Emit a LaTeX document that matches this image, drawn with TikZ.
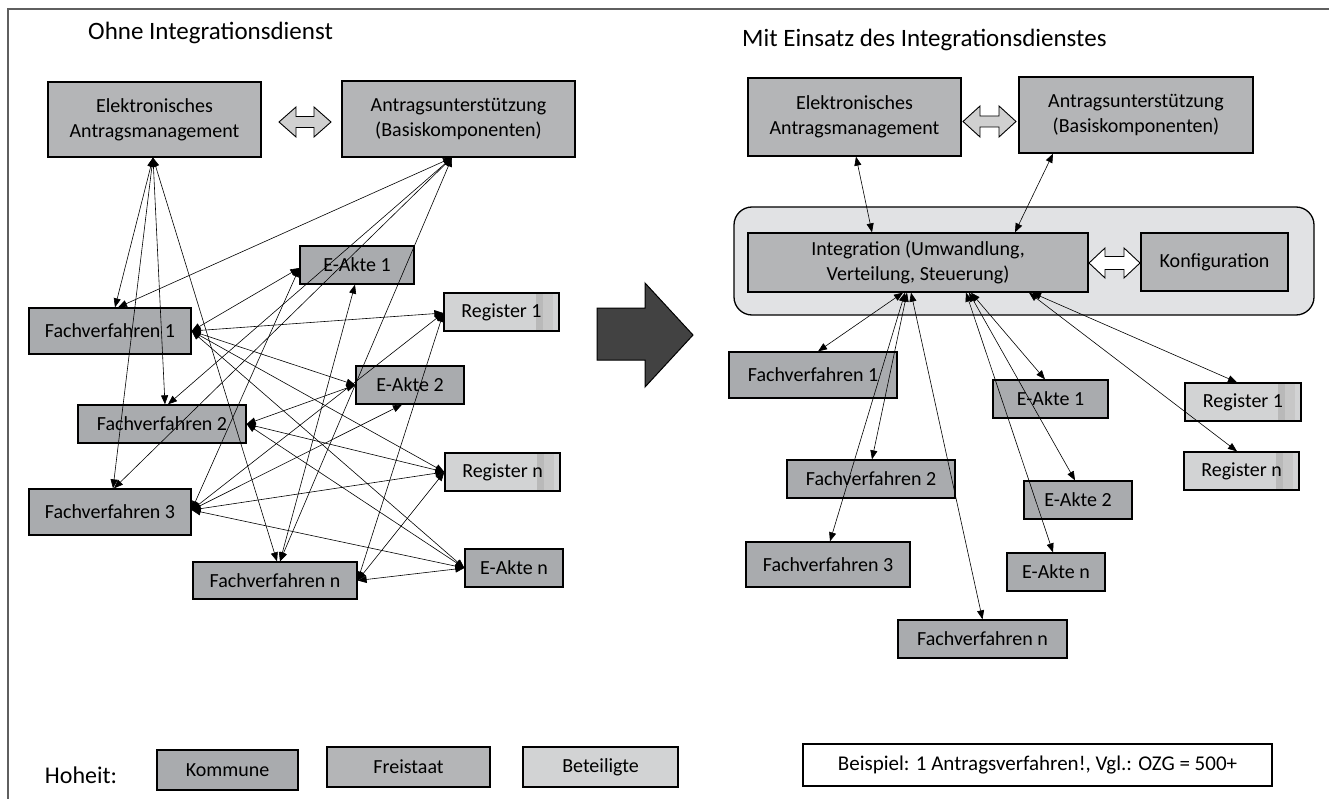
\documentclass[tikz,border=0pt]{standalone}
\usepackage{fontspec}
\setmainfont{Carlito}
\usetikzlibrary{arrows.meta,calc}
\definecolor{kommune}{HTML}{A9ABAE}
\definecolor{freistaat}{HTML}{B4B5B7}
\definecolor{beteil}{HTML}{D2D3D4}
\definecolor{contfill}{HTML}{E1E2E4}
\definecolor{framegray}{HTML}{5F5F5F}
\definecolor{bigarrowfill}{HTML}{424242}
\definecolor{dblfill}{HTML}{D0D0D0}
\definecolor{stripeA}{HTML}{B9B9B9}
\definecolor{stripeB}{HTML}{C7C7C7}
\begin{document}
\begin{tikzpicture}[x=1pt,y=-1pt,
  box/.style={draw=black, line width=1.3pt, inner sep=0pt, align=center,
              font=\fontsize{20}{25}\selectfont},
  kbox/.style={box, fill=kommune},
  fbox/.style={box, fill=freistaat},
  regbox/.style={box, fill=beteil,
     path picture={
       \fill[stripeA] ($(path picture bounding box.north east)+(-23,0)$) rectangle ($(path picture bounding box.south east)+(-16,0)$);
       \fill[stripeB] ($(path picture bounding box.north east)+(-16,0)$) rectangle ($(path picture bounding box.south east)+(-6,0)$);
     }},
  biarrow/.style={line width=0.6pt, {Triangle[length=9pt,width=7pt]}-{Triangle[length=9pt,width=7pt]}},
  titletext/.style={inner sep=0pt, anchor=west, font=\fontsize{25}{30}\selectfont},
  blockarrow/.style={draw=black, line width=0.9pt, fill=dblfill}
]
\useasboundingbox (0,0) rectangle (1329,799);
\fill[white] (0,0) rectangle (1329,799);
% frame
\draw[framegray, line width=1.6pt] (8,799) -- (8,9) -- (1329,9);

% ---------------- left part ----------------
\node[titletext] (titleL) at (88,33) {Ohne Integrationsdienst};
\node[fbox, minimum width=213, minimum height=75] (eamL) at (154.5,119.5) {Elektronisches\\Antragsmanagement};
\node[fbox, minimum width=233, minimum height=76] (auL) at (458.5,119) {Antragsunterstützung\\(Basiskomponenten)};
\draw[blockarrow] (279,122) -- (296,107) -- (296,116.5) -- (314,116.5) -- (314,107) -- (331,122)
   -- (314,137) -- (314,127.5) -- (296,127.5) -- (296,137) -- cycle;

\node[kbox, minimum width=114, minimum height=38] (ea1L) at (357,265) {E-Akte 1};
\node[regbox, minimum width=115, minimum height=38] (r1L) at (501.5,312) {Register 1};
\node[kbox, minimum width=162, minimum height=46] (fv1L) at (110,331) {Fachverfahren 1};
\node[kbox, minimum width=108, minimum height=38] (ea2L) at (410,385) {E-Akte 2};
\node[kbox, minimum width=168, minimum height=38] (fv2L) at (162,424) {Fachverfahren 2};
\node[regbox, minimum width=115, minimum height=38] (rnL) at (502.5,472) {Register n};
\node[kbox, minimum width=162, minimum height=46] (fv3L) at (110,512) {Fachverfahren 3};
\node[kbox, minimum width=164, minimum height=37] (fvnL) at (275,580.5) {Fachverfahren n};
\node[kbox, minimum width=98, minimum height=38] (eanL) at (514,568) {E-Akte n};

% connectors left
\foreach \t/\s in {fv1L/5, fv2L/3, fv3L/3, fvnL/2}{
  \draw[biarrow] ([xshift=-1.5pt]eamL.south) -- ([xshift=\s pt]\t.north);
}
\foreach \t/\s in {fv1L/8, fv2L/6, fv3L/4, fvnL/5}{
  \draw[biarrow] ([xshift=-6.5pt]auL.south) -- ([xshift=\s pt]\t.north);
}
\draw[biarrow] ([yshift=-3pt]ea1L.west) -- (fv1L.east);
\draw[biarrow] ([yshift=-3pt]ea1L.west) -- ([yshift=2pt]fv3L.east);
\draw[biarrow] ([xshift=-2pt]ea1L.south) -- ([xshift=5pt]fvnL.north);
\draw[biarrow] (ea2L.west) -- (fv1L.east);
\draw[biarrow] (ea2L.west) -- (fv2L.east);
\draw[biarrow] ([xshift=-8pt]ea2L.south) -- ([yshift=2pt]fv3L.east);
\draw[biarrow] ([yshift=-1pt]r1L.west) -- (fv1L.east);
\draw[biarrow] ([yshift=-1pt]r1L.west) -- ([yshift=2pt]fv3L.east);
\draw[biarrow] ([yshift=-1pt]r1L.west) -- (fvnL.east);
\foreach \t in {fv1L, fv2L, fvnL}{
  \draw[biarrow] (rnL.west) -- (\t.east);
}
\draw[biarrow] (rnL.west) -- ([yshift=2pt]fv3L.east);
\foreach \t in {fv1L, fv2L, fvnL}{
  \draw[biarrow] (eanL.west) -- (\t.east);
}
\draw[biarrow] (eanL.west) -- ([yshift=2pt]fv3L.east);

% big arrow
\draw[draw=black, line width=1pt, fill=bigarrowfill] (597,308) -- (645,308) -- (645,283) -- (693,335)
   -- (645,387) -- (645,360) -- (597,360) -- cycle;

% ---------------- right part ----------------
\node[titletext] (titleR) at (742,40) {Mit Einsatz des Integrationsdienstes};
\node[fbox, minimum width=213, minimum height=78] (eamR) at (854.5,117) {Elektronisches\\Antragsmanagement};
\node[fbox, minimum width=234, minimum height=76] (auR) at (1136,115) {Antragsunterstützung\\(Basiskomponenten)};
\draw[blockarrow] (963,121.5) -- (980,106) -- (980,116) -- (999,116) -- (999,106) -- (1016,121.5)
   -- (999,137) -- (999,127) -- (980,127) -- (980,137) -- cycle;

\draw[draw=black, line width=1.3pt, fill=contfill, rounded corners=18pt] (734,207) rectangle (1314,315);
\node[fbox, minimum width=340, minimum height=59] (integ) at (918,262.5) {Integration (Umwandlung,\\Verteilung, Steuerung)};
\node[fbox, minimum width=147, minimum height=58] (konf) at (1214.5,262) {Konfiguration};
\draw[blockarrow, fill=white] (1089,263) -- (1105,248) -- (1105,256.5) -- (1124,256.5) -- (1124,248) -- (1140,263)
   -- (1124,278) -- (1124,269.5) -- (1105,269.5) -- (1105,278) -- cycle;

\node[kbox, minimum width=168, minimum height=46] (fv1R) at (813,375) {Fachverfahren 1};
\node[kbox, minimum width=115, minimum height=38] (ea1R) at (1050.5,399) {E-Akte 1};
\node[regbox, minimum width=116, minimum height=38] (r1R) at (1243,402) {Register 1};
\node[regbox, minimum width=115, minimum height=38] (rnR) at (1241.5,471) {Register n};
\node[kbox, minimum width=168, minimum height=38] (fv2R) at (871,479) {Fachverfahren 2};
\node[kbox, minimum width=108, minimum height=38] (ea2R) at (1078,500) {E-Akte 2};
\node[kbox, minimum width=164, minimum height=45] (fv3R) at (828,564.5) {Fachverfahren 3};
\node[kbox, minimum width=98, minimum height=38] (eanR) at (1056,572) {E-Akte n};
\node[kbox, minimum width=169, minimum height=38] (fvnR) at (982.5,639) {Fachverfahren n};

% connectors right
\draw[biarrow] ([xshift=1.5pt]eamR.south) -- ([xshift=-46pt]integ.north);
\draw[biarrow] ([xshift=-83pt]auR.south) -- ([xshift=97pt]integ.north);
\draw[biarrow] ([xshift=-15pt]integ.south) -- ([xshift=5pt]fv1R.north);
\draw[biarrow] ([xshift=-11pt]integ.south) -- ([xshift=1pt]fv2R.north);
\draw[biarrow] ([xshift=-13pt]integ.south) -- ([xshift=2pt]fv3R.north);
\draw[biarrow] ([xshift=-7pt]integ.south) -- (fvnR.north);
\draw[biarrow] ([xshift=53pt]integ.south) -- ([xshift=-5.5pt]ea1R.north);
\draw[biarrow] ([xshift=51pt]integ.south) -- ([xshift=-3pt]ea2R.north);
\draw[biarrow] ([xshift=48pt]integ.south) -- ([xshift=-3pt]eanR.north);
\draw[biarrow] ([xshift=114pt]integ.south) -- ([xshift=-6pt]r1R.north);
\draw[biarrow] ([xshift=111pt]integ.south) -- ([xshift=-4.5pt]rnR.north);

% ---------------- legend ----------------
\node[inner sep=0pt, font=\fontsize{24}{28}\selectfont] (hoheit) at (81,775) {Hoheit:};
\node[kbox, minimum width=141, minimum height=40] (legK) at (227.5,770) {Kommune};
\node[fbox, minimum width=163, minimum height=40] (legF) at (408.5,767) {Freistaat};
\node[box, fill=beteil, minimum width=155, minimum height=40] (legB) at (600.5,767) {Beteiligte};
\node[box, fill=white, line width=1.1pt, minimum width=469, minimum height=42, font=\fontsize{21}{25}\selectfont] (note) at (1037.5,765) {Beispiel: 1 Antragsverfahren!, Vgl.: OZG = 500+};
\end{tikzpicture}
\end{document}
